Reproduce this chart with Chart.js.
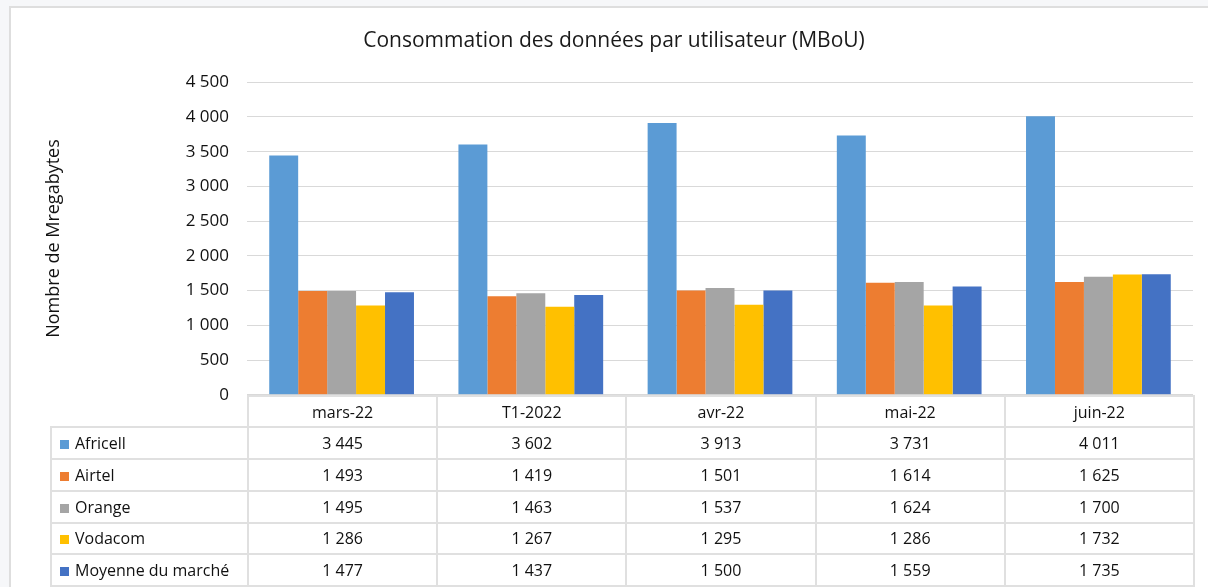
<!DOCTYPE html>
<html>
<head>
<meta charset="utf-8">
<script src="https://cdn.jsdelivr.net/npm/chart.js@4.4.1/dist/chart.umd.min.js"></script>
<style>
  body { margin: 0; background: #f6f7f9; font-family: "Open Sans", sans-serif; }
  #frame {
    position: absolute; left: 9px; top: 6px; width: 1199px; height: 581px;
    background: #fff; border-left: 2px solid #dedede; border-top: 2px solid #dedede;
  }
  #chart { position: absolute; left: 0; top: 0; }
  #dataTable {
    position: absolute; border-collapse: collapse; table-layout: fixed;
    font-size: 16px; color: #111;
  }
  #dataTable td { border: 2px solid #e0e0e0; height: 29.7px; padding: 0; text-align: center; }
  #dataTable td.blank { border: none; }
  #dataTable td.name { text-align: left; padding-left: 8px; white-space: nowrap; }
  .key { display: inline-block; width: 9px; height: 9px; margin-right: 6px; }
</style>
</head>
<body>
<div id="frame"></div>
<canvas id="chart" width="1208" height="423"></canvas>
<table id="dataTable"></table>
<script>
const MONTHS = ["mars-22", "T1-2022", "avr-22", "mai-22", "juin-22"];
const SERIES_NAMES = ["Africell", "Airtel", "Orange", "Vodacom", "Moyenne du marché"];
const AFRICELL = [3445, 3602, 3913, 3731, 4011];
const AIRTEL = [1493, 1419, 1501, 1614, 1625];
const ORANGE = [1495, 1463, 1537, 1624, 1700];
const VODACOM = [1286, 1267, 1295, 1286, 1732];
const MOYENNE = [1477, 1437, 1500, 1559, 1735];
const COLORS = ["#5b9bd5", "#ed7d31", "#a5a5a5", "#ffc000", "#4472c4"];

const values = [AFRICELL, AIRTEL, ORANGE, VODACOM, MOYENNE];

// french style thousands: "3 445"
const fmt = (v) => String(v).replace(/\B(?=(\d{3})+(?!\d))/g, " ");

const chart = new Chart(document.getElementById("chart").getContext("2d"), {
  type: "bar",
  data: {
    labels: MONTHS,
    datasets: SERIES_NAMES.map((name, i) => ({
      label: name,
      data: values[i],
      backgroundColor: COLORS[i],
      borderWidth: 0,
      barPercentage: 1,
      categoryPercentage: 0.765,
    })),
  },
  options: {
    responsive: false,
    animation: false,
    layout: { padding: { left: 35, right: 15, top: 0, bottom: 5 } },
    plugins: {
      legend: { display: false },
      tooltip: { enabled: false },
      title: {
        display: true,
        text: "Consommation des données par utilisateur (MBoU)",
        color: "#1a1a1a",
        font: { family: "Open Sans", size: 21, weight: "normal" },
        padding: { top: 28, bottom: 29 },
      },
    },
    scales: {
      x: { display: false, grid: { display: false } },
      y: {
        min: 0,
        max: 4500,
        ticks: {
          stepSize: 500,
          padding: 18,
          color: "#111",
          font: { family: "Open Sans", size: 17 },
          callback: (v) => fmt(v),
        },
        grid: { color: "#d9d9d9", drawTicks: false },
        border: { display: false },
        title: {
          display: true,
          text: "Nombre de Mregabytes",
          color: "#111",
          font: { family: "Open Sans", size: 18 },
          padding: { top: 8, bottom: 0 },
        },
        afterFit: (scale) => { scale.width = 212; },
      },
    },
  },
});

// data table under the plot, columns follow the category scale
(function buildTable() {
  const area = chart.chartArea;
  const colW = (area.right - area.left) / MONTHS.length;
  const table = document.getElementById("dataTable");
  const left = 50;
  table.style.left = left + "px";
  table.style.top = area.bottom + "px";
  table.style.width = (area.right - left) + "px";

  let html = "<colgroup><col style='width:" + (area.left - left) + "px'>";
  MONTHS.forEach(() => { html += "<col style='width:" + colW + "px'>"; });
  html += "</colgroup><tr><td class='blank'></td>";
  MONTHS.forEach((m) => { html += "<td>" + m + "</td>"; });
  html += "</tr>";
  SERIES_NAMES.forEach((name, i) => {
    html += "<tr><td class='name'><span class='key' style='background:" + COLORS[i] + "'></span>" + name + "</td>";
    values[i].forEach((v) => { html += "<td>" + fmt(v) + "</td>"; });
    html += "</tr>";
  });
  table.innerHTML = html;
})();
</script>
</body>
</html>
